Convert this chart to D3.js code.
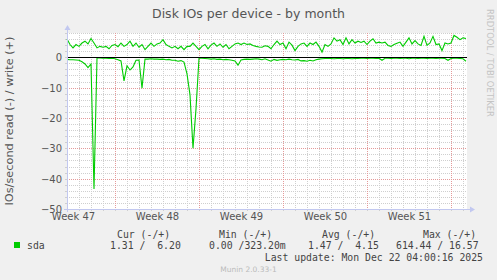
<!DOCTYPE html>
<html>
<head>
<meta charset="utf-8">
<script src="https://cdn.jsdelivr.net/npm/d3@7"></script>
<style>
  html, body { margin: 0; padding: 0; background: #F0F0F0; }
  svg { display: block; }
  text { font-family: "DejaVu Sans", sans-serif; }
  .mono { font-family: "DejaVu Sans Mono", monospace; white-space: pre; }
</style>
</head>
<body>
<svg id="chart" width="497" height="280"></svg>
<script>
// ---------------- data ----------------
const title = "Disk IOs per device - by month";
const yAxisLabel = "IOs/second read (-) / write (+)";
const watermark = "RRDTOOL / TOBI OETIKER";
const footer = "Munin 2.0.33-1";
const lastUpdate = "Last update: Mon Dec 22 04:00:16 2025";
const seriesName = "sda";
const seriesColor = "#00CC00";

// graph end and sample step (6 h) – 400 px * 7200 s window
const graphEnd = new Date(Date.UTC(2025, 11, 22, 8, 0, 0));
const windowSeconds = 400 * 7200;
const stepHours = 6;

// write IOs/s (+), one value every 6 hours
const writeValues = [
  6.0, 4.2, 3.1, 4.2, 3.6, 4.7, 5.3, 4.4, 6.2, 4.7,
  3.1, 3.6, 3.3, 3.6, 2.8, 3.9, 4.2, 3.5, 4.7, 3.6,
  4.2, 5.3, 3.6, 4.7, 3.3, 4.2, 2.5, 3.6, 4.7, 3.6,
  4.4, 4.7, 5.8, 4.2, 3.6, 3.1, 3.6, 2.8, 3.6, 2.5,
  3.6, 3.6, 4.7, 3.6, 2.5, 3.6, 4.2, 2.8, 4.0, 4.7,
  3.6, 4.4, 3.3, 4.2, 2.8, 3.6, 4.4, 4.7, 4.2, 4.7,
  4.2, 4.4, 3.9, 3.6, 3.4, 3.3, 3.8, 3.6, 2.8, 4.2,
  5.3, 4.2, 4.7, 2.8, 5.0, 4.0, 2.2, 3.6, 4.4, 4.7,
  3.6, 4.7, 4.2, 5.0, 3.6, 1.7, 4.2, 3.6, 4.4, 6.4,
  5.3, 5.8, 4.2, 6.4, 4.4, 5.8, 4.7, 5.3, 4.9, 5.3,
  4.2, 5.3, 6.1, 4.7, 5.0, 4.7, 5.0, 3.9, 3.6, 4.2,
  4.6, 5.0, 3.6, 5.0, 6.4, 4.4, 5.5, 4.4, 3.9, 6.9,
  3.9, 4.7, 6.9, 4.2, 4.4, 2.2, 4.7, 4.4, 4.7, 7.2,
  6.6, 5.8, 6.4, 6.2
];
// read IOs/s (drawn as negative), one value every 6 hours
const readValues = [
  0.7, 0.8, 0.8, 0.9, 1.0, 1.5, 2.2, 3.4, 2.2, 43.4,
  0.2, 0.2, 0.3, 0.3, 0.4, 0.3, 0.5, 0.8, 1.2, 7.8,
  2.8, 4.2, 3.2, 1.0, 0.9, 10.2, 0.6, 0.6, 0.5, 0.6,
  0.6, 0.7, 0.6, 0.8, 0.7, 1.0, 1.0, 1.3, 1.1, 1.6,
  5.5, 12.4, 30.0, 17.0, 0.3, 0.3, 0.4, 0.5, 0.6, 0.5,
  0.7, 0.6, 0.8, 0.7, 0.8, 1.0, 1.2, 2.6, 0.9, 0.7,
  0.6, 0.7, 0.6, 0.5, 0.6, 0.8, 0.5, 0.9, 1.3, 0.7,
  1.0, 0.8, 0.7, 0.8, 0.6, 0.8, 0.9, 0.7, 1.2, 1.1,
  1.3, 1.0, 1.2, 0.8, 0.6, 0.5, 0.4, 0.4, 0.4, 0.5,
  0.4, 0.4, 0.5, 0.4, 0.4, 0.5, 0.4, 0.4, 0.3, 0.3,
  0.4, 0.3, 0.3, 0.4, 0.3, 1.0, 0.3, 0.3, 0.4, 0.3,
  0.3, 0.4, 0.3, 0.3, 0.5, 0.3, 0.3, 0.4, 0.3, 0.3,
  0.4, 0.3, 0.3, 0.4, 0.3, 0.3, 0.4, 1.0, 0.4, 0.3,
  0.3, 0.4, 0.5, 1.3
];

const yMajorTicks = [-50, -40, -30, -20, -10, 0];
const yMin = -50, yMax = 8, yMinorStep = 2;

const legendHeaders = ["Cur (-/+)", "Min (-/+)", "Avg (-/+)", "Max (-/+)"];
const legendValues = ["1.31 /  6.20", "0.00 /323.20m", "1.47 /  4.15", "614.44 / 16.57"];

// ---------------- layout ----------------
const plot = { left: 67, right: 467, top: 33, bottom: 209 };
const axisColor = "#C2C8F0";
const minorGridColor = "#CFCFCF";
const majorGridColor = "#E49A9A";
const textColor = "#555555";

const svg = d3.select("#chart");
svg.append("rect").attr("width", 497).attr("height", 280).attr("fill", "#F0F0F0");

const graphStart = new Date(graphEnd.getTime() - windowSeconds * 1000);
const x = d3.scaleUtc().domain([graphStart, graphEnd]).range([plot.left, plot.right]);
const y = d3.scaleLinear().domain([yMin, yMax]).range([plot.bottom, plot.top]);
const px = v => Math.round(v) + 0.5;

// canvas
svg.append("rect")
  .attr("x", plot.left).attr("y", plot.top)
  .attr("width", plot.right - plot.left).attr("height", plot.bottom - plot.top)
  .attr("fill", "#FFFFFF");

const grid = svg.append("g");
// vertical minor (daily) grid
const days = d3.utcDay.range(d3.utcDay.ceil(graphStart), graphEnd).filter(d => d.getUTCDay() !== 0);
grid.selectAll(".vmin").data(days).join("line")
  .attr("x1", d => px(x(d))).attr("x2", d => px(x(d)))
  .attr("y1", plot.top).attr("y2", plot.bottom)
  .attr("stroke", minorGridColor).attr("stroke-dasharray", "1,1");
// horizontal minor grid
const yMinor = d3.range(yMin + yMinorStep, yMax + 0.001, yMinorStep).filter(v => v % 10 !== 0);
grid.selectAll(".hmin").data(yMinor).join("line")
  .attr("x1", plot.left).attr("x2", plot.right)
  .attr("y1", d => px(y(d))).attr("y2", d => px(y(d)))
  .attr("stroke", minorGridColor).attr("stroke-dasharray", "1,1");
// vertical major (weekly) grid
const weeks = d3.utcSunday.range(graphStart, graphEnd);
grid.selectAll(".vmaj").data(weeks).join("line")
  .attr("x1", d => px(x(d))).attr("x2", d => px(x(d)))
  .attr("y1", plot.top).attr("y2", plot.bottom)
  .attr("stroke", majorGridColor).attr("stroke-dasharray", "1,1");
// horizontal major grid
grid.selectAll(".hmaj").data(yMajorTicks.filter(v => v !== yMin)).join("line")
  .attr("x1", plot.left).attr("x2", plot.right)
  .attr("y1", d => px(y(d))).attr("y2", d => px(y(d)))
  .attr("stroke", majorGridColor).attr("stroke-dasharray", "1,1");

// tick marks on the axes
grid.selectAll(".ytk").data(yMinor.concat(yMajorTicks)).join("line")
  .attr("x1", plot.left - 2).attr("x2", plot.left)
  .attr("y1", d => px(y(d))).attr("y2", d => px(y(d)))
  .attr("stroke", minorGridColor);
grid.selectAll(".xtk").data(days.concat(weeks)).join("line")
  .attr("x1", d => px(x(d))).attr("x2", d => px(x(d)))
  .attr("y1", plot.bottom).attr("y2", plot.bottom + 2)
  .attr("stroke", minorGridColor);

// series
const times = writeValues.map((_, i) => d3.utcHour.offset(graphStart, i * stepHours));
const writeData = writeValues.map((v, i) => ({ t: times[i], v }));
const readData = readValues.map((v, i) => ({ t: times[i], v: -v }));
const line = d3.line().x(d => x(d.t)).y(d => y(d.v));

svg.append("path").datum(readData).attr("d", line)
  .attr("fill", "none").attr("stroke", seriesColor).attr("stroke-width", 1.1);
svg.append("path").datum(writeData).attr("d", line)
  .attr("fill", "none").attr("stroke", seriesColor).attr("stroke-width", 1.1);

// zero line
svg.append("line")
  .attr("x1", plot.left).attr("x2", plot.right)
  .attr("y1", px(y(0))).attr("y2", px(y(0)))
  .attr("stroke", "#000000").attr("stroke-width", 1.2);

// axes lines + arrows
svg.append("line").attr("x1", px(plot.left)).attr("x2", px(plot.left))
  .attr("y1", plot.bottom + 3).attr("y2", plot.top - 4).attr("stroke", axisColor);
svg.append("path")
  .attr("d", `M${plot.left - 2.5},${plot.top - 3} L${plot.left + 3.5},${plot.top - 3} L${plot.left + 0.5},${plot.top - 8} Z`)
  .attr("fill", axisColor);
svg.append("line").attr("x1", plot.left - 3).attr("x2", plot.right + 4)
  .attr("y1", px(plot.bottom)).attr("y2", px(plot.bottom)).attr("stroke", axisColor);
svg.append("path")
  .attr("d", `M${plot.right + 3},${plot.bottom - 2.5} L${plot.right + 3},${plot.bottom + 3.5} L${plot.right + 8},${plot.bottom + 0.5} Z`)
  .attr("fill", axisColor);

// y axis labels
const yAxis = svg.append("g").attr("transform", `translate(${plot.left - 5},0)`)
  .call(d3.axisLeft(y).tickValues(yMajorTicks).tickSize(0).tickPadding(0).tickFormat(d3.format("d")));
yAxis.select(".domain").remove();
yAxis.selectAll("text").attr("fill", textColor)
  .style("font-family", "DejaVu Sans, sans-serif").style("font-size", "10px")
  .attr("dy", "0.35em");

// x axis labels, centred in each week
const weekMids = d3.utcSunday.range(d3.utcSunday.floor(graphStart), graphEnd)
  .map(d => d3.utcHour.offset(d, 84))
  .filter(d => d >= graphStart && d <= graphEnd);
const xAxis = svg.append("g").attr("transform", `translate(0,${plot.bottom + 4})`)
  .call(d3.axisBottom(x).tickValues(weekMids).tickSize(0).tickPadding(0)
    .tickFormat(d3.utcFormat("Week %V")));
xAxis.select(".domain").remove();
xAxis.selectAll("text").attr("fill", textColor)
  .style("font-family", "DejaVu Sans, sans-serif").style("font-size", "10px")
  .attr("dy", "0.71em");

// title
svg.append("text").attr("x", 248.5).attr("y", 18).attr("text-anchor", "middle")
  .attr("fill", textColor).style("font-size", "12.5px").text(title);

// y axis title
svg.append("text")
  .attr("transform", `translate(12.5,${(plot.top + plot.bottom) / 2}) rotate(-90)`)
  .attr("text-anchor", "middle").attr("fill", textColor)
  .style("font-size", "11.3px").text(yAxisLabel);

// watermark
svg.append("text")
  .attr("transform", "translate(487,9) rotate(90)")
  .attr("fill", "#C4C4C4").style("font-size", "8.4px").text(watermark);

// legend
const legendFont = "9.8px";
const headerX = [117, 219, 322, 423];
const valueX = [110, 209, 308, 396];
svg.selectAll(".lh").data(legendHeaders).join("text")
  .attr("class", "mono").attr("xml:space", "preserve")
  .attr("x", (d, i) => headerX[i]).attr("y", 237.5)
  .attr("fill", "#444").style("font-size", legendFont).text(d => d);
svg.append("rect").attr("x", 14).attr("y", 242).attr("width", 6).attr("height", 6).attr("fill", seriesColor);
svg.append("text").attr("class", "mono").attr("x", 27).attr("y", 248.5)
  .attr("fill", "#444").style("font-size", legendFont).text(seriesName);
svg.selectAll(".lv").data(legendValues).join("text")
  .attr("class", "mono").attr("xml:space", "preserve")
  .attr("x", (d, i) => valueX[i]).attr("y", 248.5)
  .attr("fill", "#444").style("font-size", legendFont).text(d => d);
svg.append("text").attr("class", "mono").attr("xml:space", "preserve")
  .attr("x", 483).attr("y", 260.5).attr("text-anchor", "end")
  .attr("fill", "#444").style("font-size", legendFont).text(lastUpdate);
svg.append("text").attr("x", 248.5).attr("y", 271.5).attr("text-anchor", "middle")
  .attr("fill", "#BBBBBB").style("font-size", "7.5px").text(footer);
</script>
</body>
</html>
